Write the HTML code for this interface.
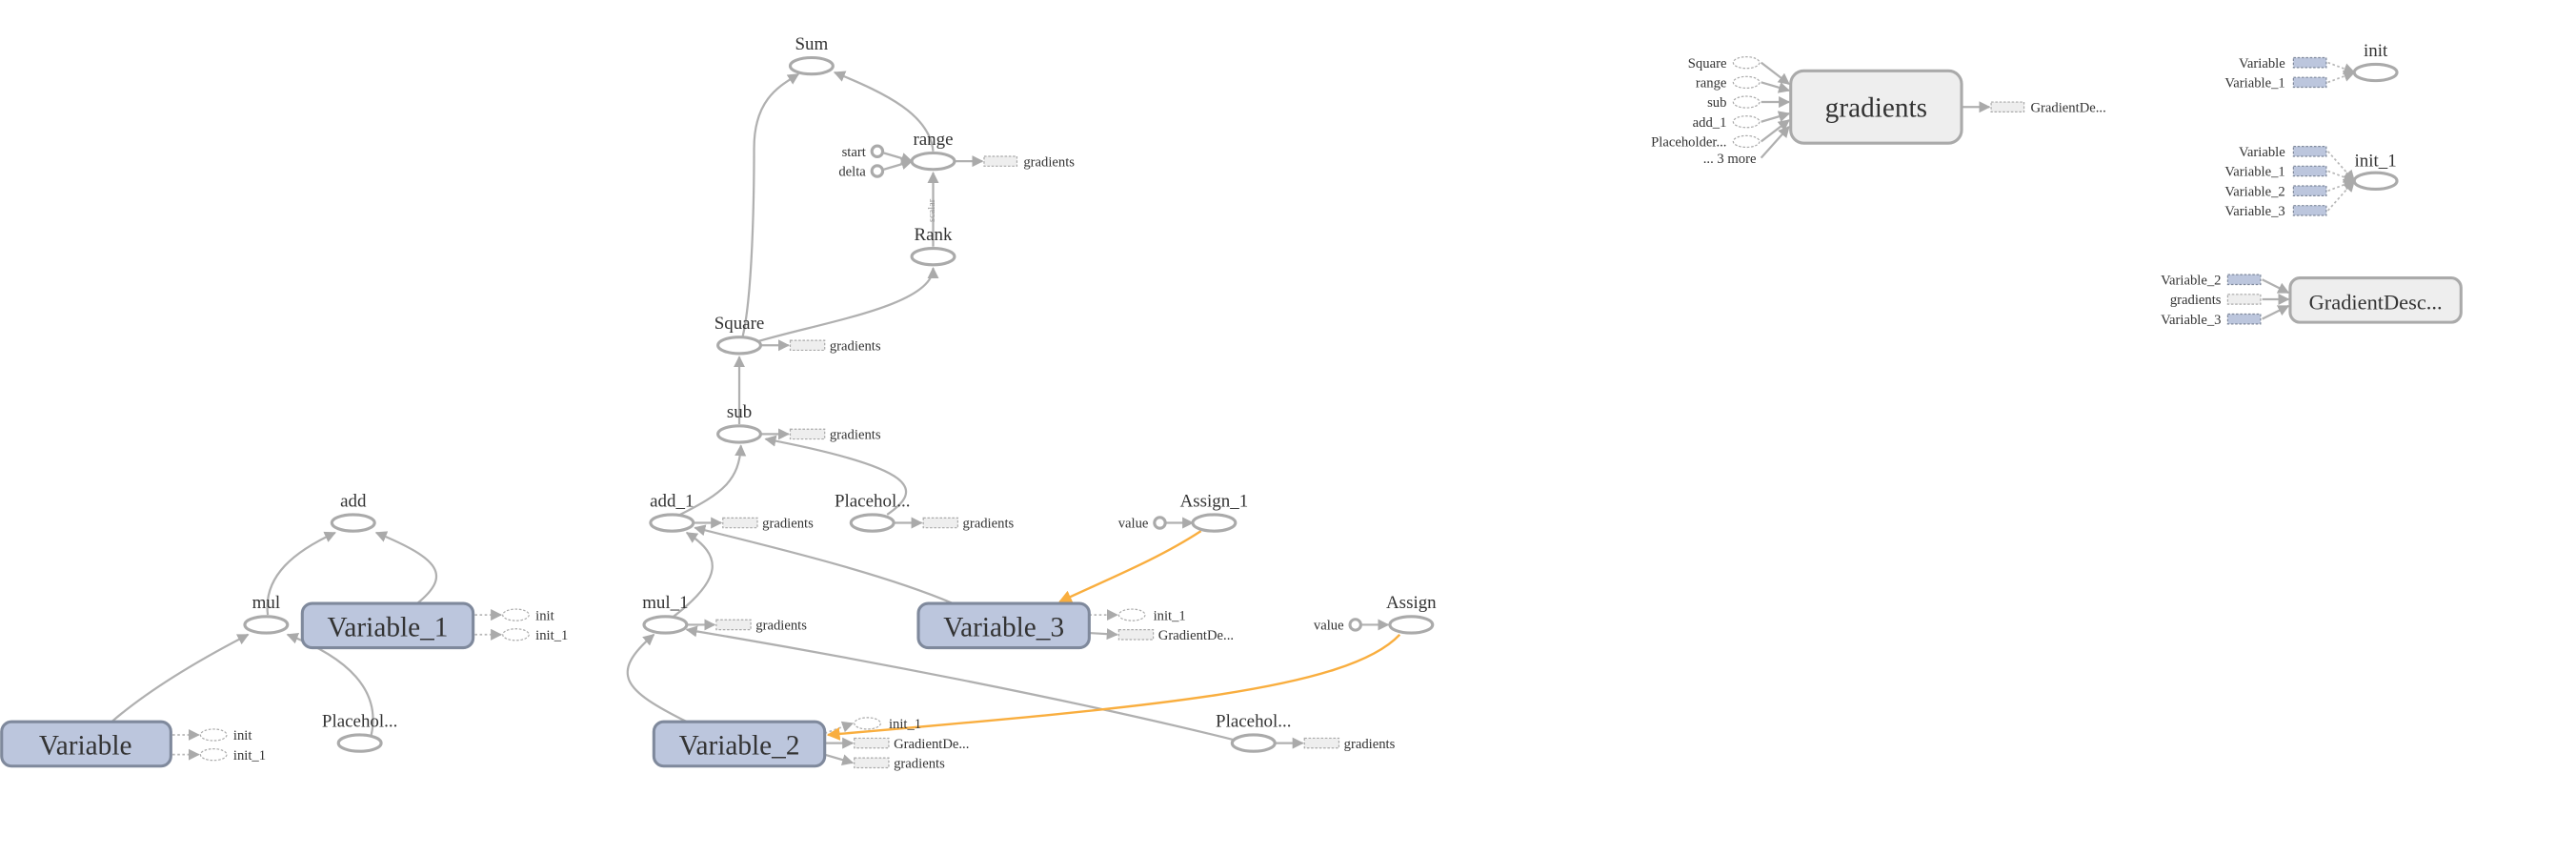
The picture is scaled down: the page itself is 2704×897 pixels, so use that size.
<!DOCTYPE html>
<html><head><meta charset="utf-8"><style>
html,body{margin:0;padding:0;background:#fff;}
svg{display:block;}
text{font-family:"Liberation Sans Narrow","Liberation Serif",serif;fill:#333;}
.nl{font-size:11px;text-anchor:middle;fill:#444;}
.sl{font-size:8.5px;fill:#222;}
.sr{font-size:8.5px;fill:#222;text-anchor:end;}
.bl{font-size:17px;text-anchor:middle;fill:#444;}
.e{fill:none;stroke:#b0b0b0;stroke-width:1.3;}
.op{fill:#fff;stroke:#aaa;stroke-width:1.8;}
.var{fill:#bcc6dd;stroke:#7f899c;stroke-width:1.8;}
.meta{fill:#eee;stroke:#aaa;stroke-width:1.8;}
.dr{fill:#eee;stroke:#aaa;stroke-width:.7;stroke-dasharray:1.5,1;}
.dv{fill:#bcc6dd;stroke:#7f899c;stroke-width:.7;stroke-dasharray:1.5,1;}
.de{fill:#fff;stroke:#aaa;stroke-width:.7;stroke-dasharray:1.5,1;}
.or{fill:none;stroke:#f9ae3f;stroke-width:1.4;}
.ds{fill:none;stroke:#b8b8b8;stroke-width:1;stroke-dasharray:1.5,1.5;}
</style></head><body>
<svg width="2704" height="897" viewBox="0 0 1568 520" xmlns="http://www.w3.org/2000/svg">
<defs>
<marker id="a" viewBox="0 0 10 10" refX="9" refY="5" markerWidth="7" markerHeight="7" orient="auto" markerUnits="userSpaceOnUse"><path d="M0,0L10,5L0,10z" fill="#aaa"/></marker>
<marker id="ao" viewBox="0 0 10 10" refX="9" refY="5" markerWidth="8" markerHeight="8" orient="auto" markerUnits="userSpaceOnUse"><path d="M0,0L10,5L0,10z" fill="#f9ae3f"/></marker>
</defs>

<!-- edges -->
<g class="e" marker-end="url(#a)">
<path d="M452,205 C458,180 459,120 459,90 C459,60 475,52 486,45"/>
<path d="M568,92 C566,70 540,57 508,44"/>
<path d="M568,150 L568,105"/>
<path d="M460,208 C500,196 568,186 568,163"/>
<path d="M450,258 L450,217"/>
<path d="M414,313 C440,300 450,292 451,271"/>
<path d="M540,313 C562,298 560,285 466,267"/>
<path d="M580,367 C540,350 480,335 423,321"/>
<path d="M410,375 C440,352 440,338 418,324"/>
<path d="M418,439 C380,420 370,410 398,386"/>
<path d="M751,450 C650,425 520,400 418,383"/>
<path d="M163,374 C160,350 180,335 204,324"/>
<path d="M254,367 C275,350 268,340 229,324"/>
<path d="M68,439 C90,420 120,402 151,386"/>
<path d="M226,447 C232,420 212,400 175,386"/>
<!-- small output arrows -->
<path d="M463,210 L480,210"/>
<path d="M463,264 L480,264"/>
<path d="M422,318 L439,318"/>
<path d="M544,318 L561,318"/>
<path d="M418,380 L435,380"/>
<path d="M581,98 L598,98"/>
<path d="M538,93 L555,98"/>
<path d="M538,103 L555,98"/>
<path d="M710,318 L726,318"/>
<path d="M829,380 L845,380"/>
<path d="M776,452 L793,452"/>
<path d="M663,385 L680,386"/>
<path d="M502,452 L519,452"/>
<path d="M502,459 L519,464"/>
<path d="M1194,65 L1211,65"/>
<path d="M1072,38 L1089,51"/>
<path d="M1072,50 L1089,55"/>
<path d="M1072,62 L1089,62"/>
<path d="M1072,74 L1089,69"/>
<path d="M1072,86 L1089,73"/>
<path d="M1072,96 L1089,77"/>
<path d="M1377,170 L1393,178"/>
<path d="M1377,182 L1393,182"/>
<path d="M1377,194 L1393,186"/>
</g>
<g class="ds" marker-end="url(#a)">
<path d="M105,447 L121,447"/><path d="M105,459 L121,459"/>
<path d="M289,374 L305,374"/><path d="M289,386 L305,386"/>
<path d="M663,374 L680,374"/>
<path d="M502,446 L519,440"/>
<path d="M1417,38 L1433,44"/><path d="M1417,50 L1433,44"/>
<path d="M1417,92 L1433,110"/><path d="M1417,104 L1433,110"/><path d="M1417,116 L1433,110"/><path d="M1417,128 L1433,110"/>
</g>
<path class="or" marker-end="url(#ao)" d="M731,323 C705,340 675,352 645,366"/>
<path class="or" marker-end="url(#ao)" d="M852,386 C820,420 700,430 504,447"/>
<text x="566" y="132" transform="rotate(-90 569 132)" style="font-size:6px;fill:#999">scalar</text>

<!-- op nodes -->
<g class="op">
<ellipse cx="494" cy="40" rx="13" ry="5"/>
<ellipse cx="568" cy="98" rx="13" ry="5"/>
<ellipse cx="568" cy="156" rx="13" ry="5"/>
<ellipse cx="450" cy="210" rx="13" ry="5"/>
<ellipse cx="450" cy="264" rx="13" ry="5"/>
<ellipse cx="409" cy="318" rx="13" ry="5"/>
<ellipse cx="531" cy="318" rx="13" ry="5"/>
<ellipse cx="739" cy="318" rx="13" ry="5"/>
<ellipse cx="405" cy="380" rx="13" ry="5"/>
<ellipse cx="859" cy="380" rx="13" ry="5"/>
<ellipse cx="763" cy="452" rx="13" ry="5"/>
<ellipse cx="215" cy="318" rx="13" ry="5"/>
<ellipse cx="162" cy="380" rx="13" ry="5"/>
<ellipse cx="219" cy="452" rx="13" ry="5"/>
<ellipse cx="1446" cy="44" rx="13" ry="5"/>
<ellipse cx="1446" cy="110" rx="13" ry="5"/>
<circle cx="534" cy="92" r="3.3"/><circle cx="534" cy="104" r="3.3"/>
<circle cx="706" cy="318" r="3.3"/><circle cx="825" cy="380" r="3.3"/>
</g>
<g class="var">
<rect x="1" y="439" width="103" height="27" rx="6"/>
<rect x="184" y="367" width="104" height="27" rx="6"/>
<rect x="398" y="439" width="104" height="27" rx="6"/>
<rect x="559" y="367" width="104" height="27" rx="6"/>
</g>
<g class="meta">
<rect x="1090" y="43" width="104" height="44" rx="8"/>
<rect x="1394" y="169" width="104" height="27" rx="6"/>
</g>
<!-- dotted aux -->
<g class="dr">
<rect x="599" y="95" width="20" height="6"/>
<rect x="481" y="207" width="21" height="6"/>
<rect x="481" y="261" width="21" height="6"/>
<rect x="440" y="315" width="21" height="6"/>
<rect x="562" y="315" width="21" height="6"/>
<rect x="436" y="377" width="21" height="6"/>
<rect x="681" y="383" width="21" height="6"/>
<rect x="520" y="449" width="21" height="6"/>
<rect x="520" y="461" width="21" height="6"/>
<rect x="794" y="449" width="21" height="6"/>
<rect x="1212" y="62" width="20" height="6"/>
<rect x="1356" y="179" width="20" height="6"/>
</g>
<g class="dv">
<rect x="1396" y="35" width="20" height="6"/><rect x="1396" y="47" width="20" height="6"/>
<rect x="1396" y="89" width="20" height="6"/><rect x="1396" y="101" width="20" height="6"/>
<rect x="1396" y="113" width="20" height="6"/><rect x="1396" y="125" width="20" height="6"/>
<rect x="1356" y="167" width="20" height="6"/><rect x="1356" y="191" width="20" height="6"/>
</g>
<g class="de">
<ellipse cx="130" cy="447" rx="8" ry="3.5"/><ellipse cx="130" cy="459" rx="8" ry="3.5"/>
<ellipse cx="314" cy="374" rx="8" ry="3.5"/><ellipse cx="314" cy="386" rx="8" ry="3.5"/>
<ellipse cx="689" cy="374" rx="8" ry="3.5"/><ellipse cx="528" cy="440" rx="8" ry="3.5"/>
<ellipse cx="1063" cy="38" rx="8" ry="3.5"/><ellipse cx="1063" cy="50" rx="8" ry="3.5"/>
<ellipse cx="1063" cy="62" rx="8" ry="3.5"/><ellipse cx="1063" cy="74" rx="8" ry="3.5"/>
<ellipse cx="1063" cy="86" rx="8" ry="3.5"/>
</g>

<!-- labels -->
<g class="nl">
<text x="494" y="30">Sum</text>
<text x="568" y="88">range</text>
<text x="568" y="146">Rank</text>
<text x="450" y="200">Square</text>
<text x="450" y="254">sub</text>
<text x="409" y="308">add_1</text>
<text x="531" y="308">Placehol...</text>
<text x="739" y="308">Assign_1</text>
<text x="405" y="370">mul_1</text>
<text x="859" y="370">Assign</text>
<text x="763" y="442">Placehol...</text>
<text x="215" y="308">add</text>
<text x="162" y="370">mul</text>
<text x="219" y="442">Placehol...</text>
<text x="1446" y="34">init</text>
<text x="1446" y="101">init_1</text>
</g>
<g class="bl">
<text x="52" y="459">Variable</text>
<text x="236" y="387">Variable_1</text>
<text x="450" y="459">Variable_2</text>
<text x="611" y="387">Variable_3</text>
<text x="1142" y="71">gradients</text>
<text x="1446" y="188" style="font-size:13px">GradientDesc...</text>
</g>
<g class="sl">
<text x="623" y="101">gradients</text>
<text x="505" y="213">gradients</text>
<text x="505" y="267">gradients</text>
<text x="464" y="321">gradients</text>
<text x="586" y="321">gradients</text>
<text x="460" y="383">gradients</text>
<text x="702" y="377">init_1</text>
<text x="705" y="389">GradientDe...</text>
<text x="541" y="443">init_1</text>
<text x="544" y="455">GradientDe...</text>
<text x="544" y="467">gradients</text>
<text x="818" y="455">gradients</text>
<text x="142" y="450">init</text>
<text x="142" y="462">init_1</text>
<text x="326" y="377">init</text>
<text x="326" y="389">init_1</text>
<text x="1236" y="68">GradientDe...</text>
</g>
<g class="sr">
<text x="527" y="95">start</text>
<text x="527" y="107">delta</text>
<text x="699" y="321">value</text>
<text x="818" y="383">value</text>
<text x="1051" y="41">Square</text>
<text x="1051" y="53">range</text>
<text x="1051" y="65">sub</text>
<text x="1051" y="77">add_1</text>
<text x="1051" y="89">Placeholder...</text>
<text x="1069" y="99">... 3 more</text>
<text x="1391" y="41">Variable</text>
<text x="1391" y="53">Variable_1</text>
<text x="1391" y="95">Variable</text>
<text x="1391" y="107">Variable_1</text>
<text x="1391" y="119">Variable_2</text>
<text x="1391" y="131">Variable_3</text>
<text x="1352" y="173">Variable_2</text>
<text x="1352" y="185">gradients</text>
<text x="1352" y="197">Variable_3</text>
</g>
</svg>
</body></html>
